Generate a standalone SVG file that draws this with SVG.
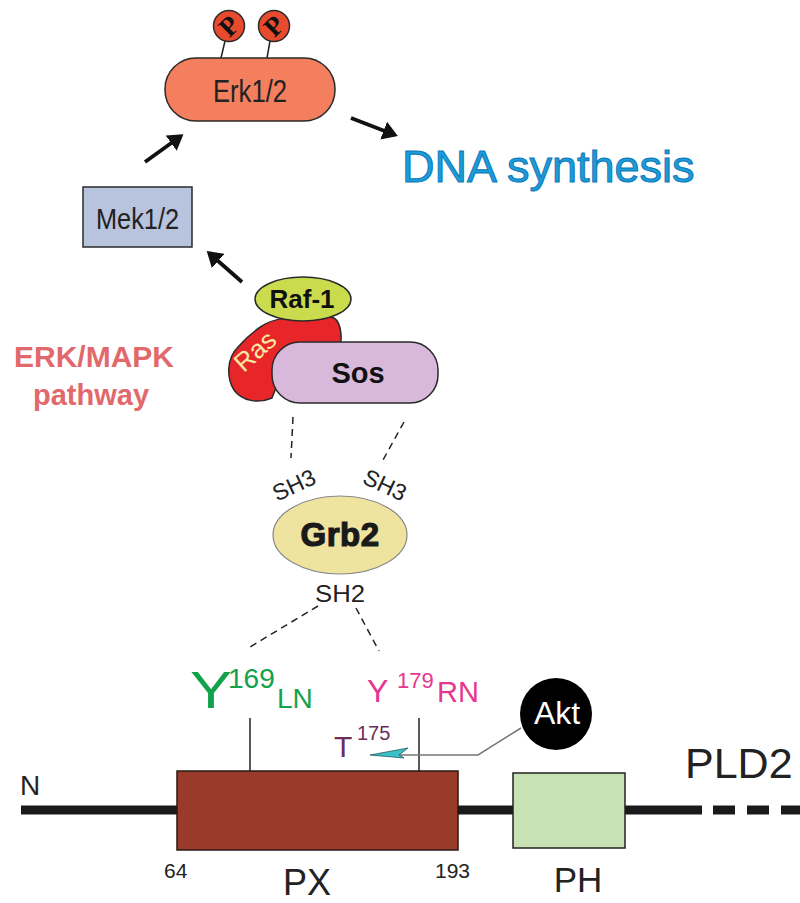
<svg xmlns="http://www.w3.org/2000/svg" width="800" height="903" viewBox="0 0 800 903">
<style>
text{font-family:"Liberation Sans",Arial,sans-serif}
.node{stroke:#2a2a2a;stroke-width:1.5}
.arrow{stroke:#111;stroke-width:3.8;fill:none;marker-end:url(#ah)}
.dash{stroke:#222;stroke-width:1.5;stroke-dasharray:7 5;fill:none}
.thin{stroke:#222;stroke-width:1.5;fill:none}
.lbl{fill:#222}
.ptxt{font-family:"Liberation Serif",serif;font-weight:bold;fill:#111}
</style>
<defs>
<marker id="ah" markerWidth="5" markerHeight="5" refX="3.2" refY="2.5" orient="auto" markerUnits="strokeWidth">
<path d="M0,0 L4,2.5 L0,5 Z" fill="#111"/>
</marker>
</defs>
<rect width="800" height="903" fill="#fff"/>

<g id="connectors">
<line class="arrow" x1="145" y1="162" x2="181" y2="136"/>
<line class="arrow" x1="242" y1="282" x2="209" y2="253"/>
<line class="arrow" x1="351" y1="118" x2="395" y2="135"/>
<line class="thin" x1="221" y1="58" x2="225" y2="41"/>
<line class="thin" x1="267" y1="58" x2="270" y2="41"/>
<line class="dash" x1="293" y1="417" x2="291" y2="458"/>
<line class="dash" x1="404" y1="422" x2="383" y2="460"/>
<line class="dash" x1="318" y1="606" x2="250" y2="647"/>
<line class="dash" x1="356" y1="608" x2="379" y2="651"/>
<line class="thin" x1="250" y1="718" x2="250" y2="771"/>
<line class="thin" x1="419" y1="718" x2="419" y2="771"/>
<polyline points="396,755 478,755 521,728" fill="none" stroke="#777" stroke-width="1.5"/>
<polygon points="370,755 408,748 399,755 404,758" fill="#3cc0c8" stroke="#1d5a60" stroke-width="0.8"/>
</g>

<g id="pld2-backbone">
<line x1="21" y1="810" x2="702" y2="810" stroke="#1a1a1a" stroke-width="9"/>
<line x1="713" y1="810" x2="800" y2="810" stroke="#1a1a1a" stroke-width="9" stroke-dasharray="22 12"/>
</g>

<g id="erk">
<rect class="node" x="165" y="58" width="170" height="63" rx="31" fill="#f47f5e"/>
<text x="250" y="102" font-size="31" text-anchor="middle" textLength="74" lengthAdjust="spacingAndGlyphs" class="lbl">Erk1/2</text>
</g>
<g id="p1">
<circle class="node" cx="229" cy="26" r="15.5" fill="#e84a2e"/>
<text transform="translate(229,26) rotate(-45)" y="9" font-size="27" text-anchor="middle" class="ptxt">P</text>
</g>
<g id="p2">
<circle class="node" cx="274" cy="26" r="15.5" fill="#e84a2e"/>
<text transform="translate(274,26) rotate(-45)" y="9" font-size="27" text-anchor="middle" class="ptxt">P</text>
</g>

<g id="mek">
<rect class="node" x="83" y="187" width="109" height="60" fill="#b8c4de"/>
<text x="137.5" y="229" font-size="30" text-anchor="middle" textLength="83" lengthAdjust="spacingAndGlyphs" class="lbl">Mek1/2</text>
</g>

<g id="dna">
<text x="402" y="182" font-size="45" fill="#1b9cd9" stroke="#0d78b8" stroke-width="1">DNA synthesis</text>
</g>

<g id="erk-mapk-label">
<text x="94" y="367" font-size="30" font-weight="bold" text-anchor="middle" fill="#e2696b">ERK/MAPK</text>
<text x="91" y="405" font-size="29" font-weight="bold" text-anchor="middle" fill="#e2696b">pathway</text>
</g>

<g id="ras">
<path class="node" d="M262,326 C276,316 318,313 334,318 C342,323 343,343 338,350 L290,352 L272,398 C258,404 242,401 234,390 C226,377 227,358 238,347 C246,338 254,331 262,326 Z" fill="#e8262a"/>
<text transform="translate(255,351) rotate(-42)" y="9" font-size="26" text-anchor="middle" fill="#f8e9a0">Ras</text>
</g>

<g id="sos">
<rect class="node" x="272" y="342" width="166" height="61" rx="28" fill="#d8b9dc"/>
<text x="358" y="383" font-size="29" font-weight="bold" text-anchor="middle" fill="#111">Sos</text>
</g>

<g id="raf">
<ellipse class="node" cx="303" cy="299" rx="48" ry="22" fill="#cadc4e"/>
<text x="302" y="308" font-size="26" font-weight="bold" text-anchor="middle" fill="#111">Raf-1</text>
</g>

<g id="grb2">
<ellipse cx="340" cy="535" rx="67" ry="39" fill="#efe3a0" stroke="#888" stroke-width="1.2"/>
<text x="340" y="546" font-size="33" font-weight="bold" text-anchor="middle" fill="#1a1a1a" stroke="#1a1a1a" stroke-width="1.2" letter-spacing="0.5">Grb2</text>
<text transform="translate(294,485) rotate(-25)" y="8" font-size="23" text-anchor="middle" class="lbl">SH3</text>
<text transform="translate(385,485) rotate(25)" y="8" font-size="23" text-anchor="middle" class="lbl">SH3</text>
<text x="340" y="602" font-size="24" text-anchor="middle" textLength="50" lengthAdjust="spacingAndGlyphs" class="lbl">SH2</text>
</g>

<g id="y169">
<text x="190" y="708" font-size="52" fill="#12a24b" textLength="42" lengthAdjust="spacingAndGlyphs">Y</text>
<text x="228" y="688" font-size="28" fill="#12a24b">169</text>
<text x="277" y="708" font-size="28" fill="#12a24b">LN</text>
</g>

<g id="y179">
<text x="367" y="702" font-size="32" fill="#e8368f">Y</text>
<text x="397" y="688" font-size="22" fill="#e8368f">179</text>
<text x="437" y="702" font-size="29" fill="#e8368f">RN</text>
</g>

<g id="t175">
<text x="334" y="757" font-size="30" fill="#6b2d5a">T</text>
<text x="357" y="740" font-size="20" fill="#6b2d5a">175</text>
</g>

<g id="akt">
<circle cx="556" cy="714" r="36" fill="#000"/>
<text x="557" y="724" font-size="32" text-anchor="middle" fill="#fff">Akt</text>
</g>

<g id="px">
<rect x="177" y="771" width="281" height="79" fill="#993a2b" stroke="#2a1a14" stroke-width="1.5"/>
<text x="307" y="895" font-size="36" text-anchor="middle" class="lbl">PX</text>
<text x="164" y="878" font-size="21" class="lbl">64</text>
<text x="435" y="878" font-size="21" class="lbl">193</text>
</g>

<g id="ph">
<rect x="513" y="773" width="112" height="75" fill="#c9e2b5" stroke="#222" stroke-width="1.5"/>
<text x="578" y="892" font-size="35" text-anchor="middle" class="lbl">PH</text>
</g>

<g id="labels">
<text x="20" y="795" font-size="28" class="lbl">N</text>
<text x="685" y="778" font-size="43" class="lbl">PLD2</text>
</g>
</svg>
